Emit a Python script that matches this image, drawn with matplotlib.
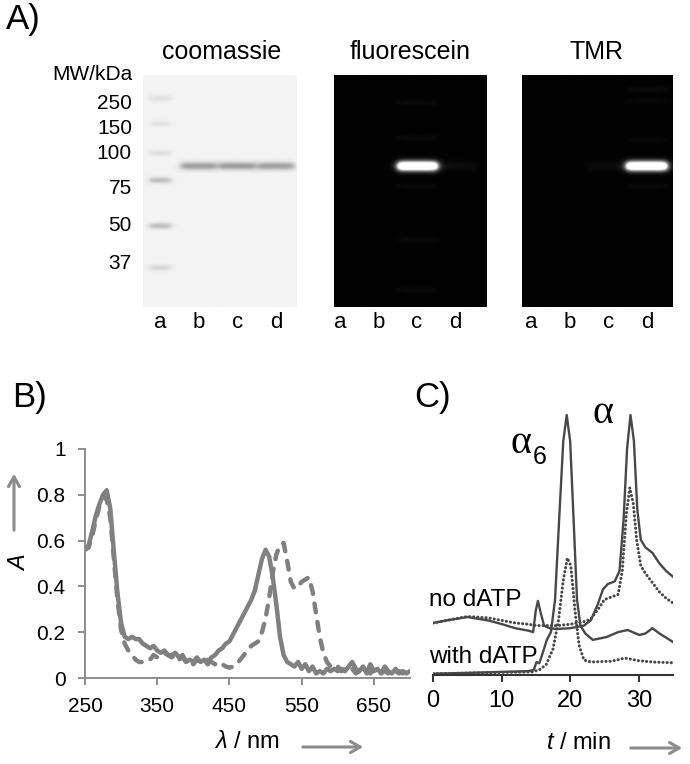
import numpy as np
import matplotlib.pyplot as plt

plt.rcParams['font.family'] = ['Liberation Sans', 'DejaVu Sans']
plt.rcParams['mathtext.fontset'] = 'custom'
plt.rcParams['mathtext.rm'] = 'Liberation Sans'
plt.rcParams['mathtext.it'] = 'Liberation Sans:italic'

W, H = 690, 764

# ==============================
# A) GEL DATA  (rf = relative migration, 0 = gel top, 1 = gel bottom)
# ==============================
lane_names = ['a', 'b', 'c', 'd']
lanes = [1, 2, 3, 4]
mw_labels = ['250', '150', '100', '75', '50', '37']
mw_label_rf = [0.115, 0.223, 0.331, 0.481, 0.638, 0.805]
marker_rf = [0.10, 0.21, 0.336, 0.453, 0.651, 0.832]
marker_dark = [0.08, 0.07, 0.08, 0.22, 0.22, 0.12]
target_rf = 0.392
coom_band_dark = [0.0, 0.33, 0.35, 0.33]
fluor_band_glow = [0.0, 0.0, 1.7, 0.04]
tmr_band_glow = [0.0, 0.0, 0.035, 1.7]
fluor_ladder_rf = [0.12, 0.27, 0.48, 0.71, 0.93]
tmr_ladder_rf = [0.06, 0.11, 0.28, 0.48]

# ==============================
# B) ABSORBANCE SPECTRA
# ==============================
wl = [250, 255, 260, 265, 270, 275, 280, 285, 290, 295, 300, 305, 310, 315, 320,
      325, 330, 335, 340, 345, 350, 355, 360, 365, 370, 375, 380, 385, 390, 395,
      400, 405, 410, 415, 420, 425, 430, 435, 440, 445, 450, 455, 460, 465, 470,
      475, 480, 485, 490, 495, 500, 505, 510, 515, 520, 525, 530, 535, 540, 545,
      550, 555, 560, 565, 570, 575, 580, 585, 590, 595, 600, 605, 610, 615, 620,
      625, 630, 635, 640, 645, 650, 655, 660, 665, 670, 675, 680, 685, 690, 695, 700]
abs_fluor = [0.56, 0.58, 0.64, 0.71, 0.76, 0.80, 0.82, 0.74, 0.55, 0.37, 0.24, 0.18, 0.17, 0.18, 0.17,
             0.17, 0.15, 0.14, 0.13, 0.14, 0.12, 0.11, 0.12, 0.10, 0.10, 0.11, 0.09, 0.10, 0.07, 0.08,
             0.07, 0.09, 0.07, 0.08, 0.06, 0.09, 0.10, 0.12, 0.13, 0.15, 0.16, 0.19, 0.22, 0.25, 0.28,
             0.31, 0.34, 0.38, 0.45, 0.52, 0.56, 0.53, 0.44, 0.32, 0.18, 0.10, 0.07, 0.06, 0.05, 0.07,
             0.04, 0.06, 0.03, 0.05, 0.02, 0.03, 0.02, 0.04, 0.03, 0.04, 0.03, 0.04, 0.03, 0.05, 0.07,
             0.04, 0.03, 0.05, 0.02, 0.06, 0.03, 0.04, 0.02, 0.05, 0.03, 0.02, 0.04, 0.02, 0.03, 0.02, 0.03]
abs_tmr = [0.56, 0.57, 0.62, 0.69, 0.75, 0.79, 0.78, 0.70, 0.52, 0.34, 0.21, 0.15, 0.12, 0.10, 0.08,
           0.07, 0.07, 0.07, 0.08, 0.10, 0.09, 0.10, 0.11, 0.10, 0.09, 0.10, 0.08, 0.09, 0.07, 0.08,
           0.06, 0.08, 0.07, 0.07, 0.08, 0.07, 0.06, 0.07, 0.06, 0.05, 0.045, 0.05, 0.06, 0.08, 0.10,
           0.12, 0.14, 0.15, 0.16, 0.20, 0.26, 0.35, 0.46, 0.54, 0.58, 0.59, 0.51, 0.42, 0.39, 0.40,
           0.42, 0.43, 0.44, 0.38, 0.28, 0.18, 0.11, 0.07, 0.05, 0.04, 0.05, 0.03, 0.04, 0.03, 0.04,
           0.02, 0.03, 0.04, 0.03, 0.02, 0.04, 0.03, 0.02, 0.03, 0.02, 0.03, 0.02, 0.03, 0.02, 0.03, 0.02]

# ==============================
# C) SEC TRACES (arbitrary units)
# ==============================
t_no_s = [0, 2, 5, 8, 10, 12, 14, 14.6, 15.0, 15.3, 15.7, 16.2, 17, 18, 20, 22, 23, 24, 24.8,
          25.5, 26.5, 27.2, 27.8, 28.3, 28.8, 29.3, 29.8, 30.3, 31, 32, 33, 34, 35]
v_no_s = [0.20, 0.21, 0.223, 0.21, 0.196, 0.18, 0.17, 0.165, 0.25, 0.285, 0.24, 0.19, 0.18, 0.177,
          0.18, 0.19, 0.21, 0.27, 0.33, 0.35, 0.36, 0.40, 0.60, 0.87, 1.0, 0.90, 0.635, 0.52, 0.49,
          0.47, 0.43, 0.40, 0.378]
t_no_d = [0, 2, 5, 8, 10, 12, 14, 15, 16, 18, 20, 22, 23, 24, 25, 26, 27, 27.6, 28.2, 28.7, 29.2,
          29.7, 30.3, 31, 32, 33, 34, 35]
v_no_d = [0.20, 0.21, 0.225, 0.22, 0.21, 0.20, 0.195, 0.19, 0.19, 0.19, 0.195, 0.205, 0.215, 0.25,
          0.29, 0.30, 0.31, 0.40, 0.62, 0.72, 0.66, 0.52, 0.42, 0.39, 0.355, 0.32, 0.295, 0.277]
t_with_s = [0, 5, 10, 14, 14.7, 15.1, 15.5, 16, 16.6, 17.2, 17.8, 18.4, 19.0, 19.5, 20.0, 20.5,
            21.0, 21.5, 22.2, 23.3, 25.3, 27, 28.4, 30.1, 31, 32, 33, 35]
v_with_s = [0.005, 0.008, 0.012, 0.015, 0.02, 0.05, 0.045, 0.085, 0.135, 0.165, 0.29, 0.60, 0.90,
            1.0, 0.90, 0.60, 0.29, 0.19, 0.16, 0.135, 0.146, 0.165, 0.173, 0.154, 0.16, 0.18, 0.16, 0.127]
t_with_d = [0, 10, 14.5, 15.5, 16.5, 17.5, 18.3, 19.0, 19.6, 20.1, 20.7, 21.3, 22, 23, 26, 28, 30, 32, 35]
v_with_d = [0.005, 0.01, 0.012, 0.02, 0.04, 0.10, 0.21, 0.365, 0.45, 0.42, 0.25, 0.115, 0.058, 0.05,
            0.053, 0.065, 0.055, 0.05, 0.047]


def px_axes(x0, y0, x1, y1):
    return fig.add_axes([x0 / W, 1 - y1 / H, (x1 - x0) / W, (y1 - y0) / H])


def render_gel(ax, bands, xlim, dark):
    xs = np.linspace(xlim[0], xlim[1], 240)
    ys = np.linspace(0, 1, 360)
    X, Y = np.meshgrid(xs, ys)
    img = np.zeros_like(X)
    for cx, rf, level, width, thick in bands:
        prof_x = 1 / (1 + np.exp((np.abs(X - cx) - width / 2) / 0.05))
        prof_y = np.exp(-((Y - rf) / thick) ** 2)
        img += level * prof_x * prof_y
    if dark:
        shade = np.clip(img + 0.01, 0, 1)
    else:
        shade = np.clip(0.955 - img, 0, 1)
    ax.imshow(shade, cmap='gray', vmin=0, vmax=1, extent=(xlim[0], xlim[1], 1, 0),
              aspect='auto', interpolation='bilinear')
    ax.set_xlim(xlim)
    ax.set_ylim(1, 0)
    for s in ax.spines.values():
        s.set_visible(False)
    ax.set_xticks([])
    ax.set_yticks([])
    for x, name in zip(lanes, lane_names):
        ax.text(x, -0.065, name, transform=ax.get_xaxis_transform(), ha='center', va='center', fontsize=16)


fig = plt.figure(figsize=(W / 100, H / 100), dpi=100)

# ---- coomassie
ax1 = px_axes(143, 75, 297, 307)
coom_bands = [(1, rf, d, 0.55, 0.013) for rf, d in zip(marker_rf, marker_dark)]
coom_bands += [(x, target_rf, d, 0.95, 0.017) for x, d in zip(lanes, coom_band_dark) if d > 0]
render_gel(ax1, coom_bands, (0.56, 4.54), dark=False)
ax1.set_yticks(mw_label_rf, mw_labels)
ax1.tick_params(axis='y', length=0, pad=8, labelsize=15)

# ---- fluorescein
ax2 = px_axes(334, 75, 486, 307)
fl_bands = [(x, target_rf, g, 1.02, 0.02) for x, g in zip(lanes, fluor_band_glow) if g > 0]
fl_bands += [(3, rf, 0.03, 0.95, 0.012) for rf in fluor_ladder_rf]
render_gel(ax2, fl_bands, (0.844, 4.79), dark=True)

# ---- TMR
ax3 = px_axes(522, 75, 673, 307)
tm_bands = [(x, target_rf, g, 1.05, 0.02) for x, g in zip(lanes, tmr_band_glow) if g > 0]
tm_bands += [(4, rf, 0.03, 0.95, 0.012) for rf in tmr_ladder_rf]
render_gel(ax3, tm_bands, (0.753, 4.675), dark=True)

# ==============================
# B) spectra
# ==============================
axB = px_axes(85, 449, 410, 678)
grey = '#808080'
axB.plot(wl, abs_fluor, color=grey, lw=3.2, solid_capstyle='round', solid_joinstyle='round')
axB.plot(wl, abs_tmr, color=grey, lw=3.2, ls=(0, (2, 2.2)), dash_capstyle='round')
axB.set_xlim(250, 700)
axB.set_ylim(0, 1)
axB.set_xticks([250, 350, 450, 550, 650])
axB.set_yticks([0, 0.2, 0.4, 0.6, 0.8, 1.0], ['0', '0.2', '0.4', '0.6', '0.8', '1'])
for side in ['top', 'right']:
    axB.spines[side].set_visible(False)
for side in ['left', 'bottom']:
    axB.spines[side].set_color('#8c8c8c')
    axB.spines[side].set_linewidth(1.4)
axB.tick_params(direction='out', length=5, width=1.4, color='#8c8c8c', labelsize=15, pad=9)

# ==============================
# C) SEC
# ==============================
axC = px_axes(433, 402, 673, 675)
dark = '#484848'
axC.plot(t_no_s, v_no_s, color=dark, lw=1.7)
axC.plot(t_no_d, v_no_d, color=dark, lw=2.2, ls=(0, (0.05, 1.3)), dash_capstyle='round')
axC.plot(t_with_s, v_with_s, color=dark, lw=1.7)
axC.plot(t_with_d, v_with_d, color=dark, lw=2.2, ls=(0, (0.05, 1.3)), dash_capstyle='round')
axC.set_xlim(0, 35)
axC.set_ylim(0, 1.05)
axC.set_xticks([0, 10, 20, 30])
axC.set_yticks([])
for side in ['top', 'right', 'left']:
    axC.spines[side].set_visible(False)
axC.spines['bottom'].set_color('#333333')
axC.spines['bottom'].set_linewidth(1.5)
axC.tick_params(direction='out', length=5, width=1.5, color='#333333', labelsize=17, pad=6)
axC.patch.set_alpha(0)

# ==============================
# overlay: labels + arrows (pixel coords)
# ==============================
ov = fig.add_axes([0, 0, 1, 1])
ov.set_xlim(0, W)
ov.set_ylim(H, 0)
ov.axis('off')

ov.text(6, 20, 'A)', fontsize=25, ha='left', va='center')
ov.text(222, 52, 'coomassie', fontsize=18, ha='center', va='center')
ov.text(410, 52, 'fluorescein', fontsize=18, ha='center', va='center')
ov.text(596, 52, 'TMR', fontsize=18, ha='center', va='center')
ov.text(132, 74, 'MW/kDa', fontsize=15, ha='right', va='center')

ov.text(12, 398, 'B)', fontsize=25, ha='left', va='center')
ov.text(20, 563, 'A', fontsize=17, style='italic', rotation=90, ha='center', va='center')
ov.text(247, 742, r'$\lambda$ / nm', fontsize=17, ha='center', va='center')

ov.text(414, 398, 'C)', fontsize=25, ha='left', va='center')
ov.text(511, 453, 'α', family=['Liberation Serif', 'DejaVu Serif'], fontsize=29, ha='left', va='baseline')
ov.text(533, 464, '6', fontsize=18, ha='left', va='baseline')
ov.text(592, 423, 'α', family=['Liberation Serif', 'DejaVu Serif'], fontsize=29, ha='left', va='baseline')
ov.text(429, 606, 'no dATP', fontsize=17.5, ha='left', va='baseline')
ov.text(429, 663, 'with dATP', fontsize=17.5, ha='left', va='baseline')
ov.text(578, 743, r'$t$ / min', fontsize=17, ha='center', va='center')

arrow = dict(arrowstyle='->,head_length=0.7,head_width=0.4', color='#8c8c8c', lw=2.2)
ov.annotate('', xy=(14, 471), xytext=(14, 533), arrowprops=arrow)
ov.annotate('', xy=(366, 747), xytext=(300, 747), arrowprops=arrow)
ov.annotate('', xy=(685, 748), xytext=(628, 748), arrowprops=arrow)

fig.savefig('out.png', dpi=100)
